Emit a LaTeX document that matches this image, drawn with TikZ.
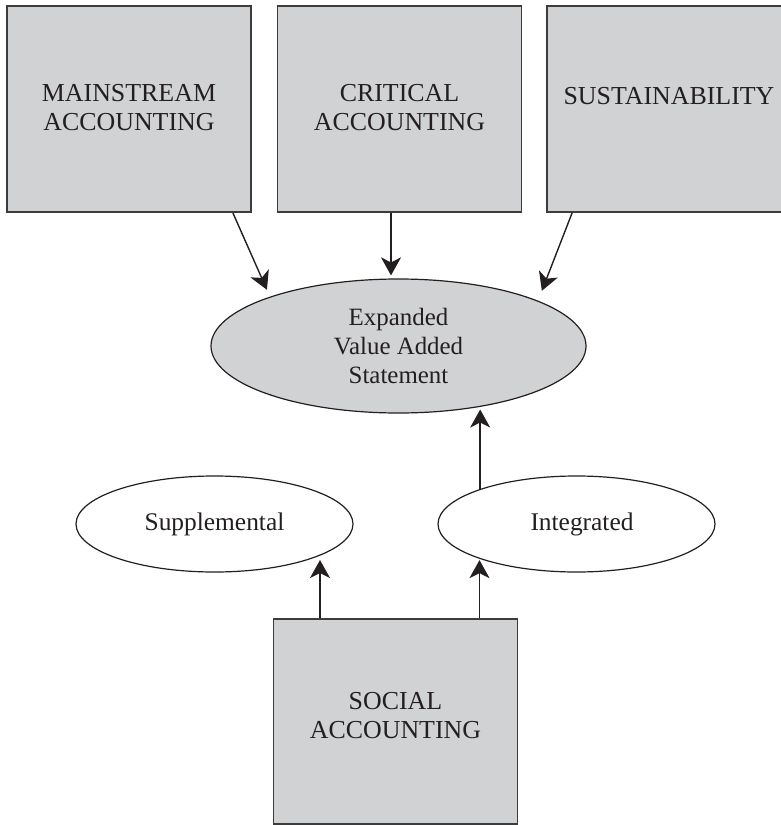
\documentclass[tikz,border=0pt]{standalone}
\usepackage{fontspec}
\setmainfont{Liberation Serif}
\usetikzlibrary{arrows.meta,shapes.geometric}
\definecolor{panel}{HTML}{D1D2D4}
\definecolor{ink}{HTML}{231F20}
\definecolor{frame}{HTML}{3C3C3C}
\tikzset{
  topic/.style={rectangle, draw=frame, line width=1.8bp, fill=panel,
    minimum width=244bp, minimum height=206bp, inner sep=0pt},
  topiclabel/.style={font=\fontsize{26}{28.5}\selectfont, text=ink, align=center},
  hub/.style={ellipse, draw=ink, line width=1.2bp, fill=panel,
    minimum width=375bp, minimum height=134bp, inner sep=0pt,
    font=\fontsize{25}{29}\selectfont, text=ink, align=center},
  mode/.style={ellipse, draw=ink, line width=1.2bp, fill=white,
    minimum width=277bp, minimum height=96bp, inner sep=0pt,
    font=\fontsize{25.5}{29}\selectfont, text=ink},
  link/.style={draw=ink, line width=1.4bp,
    -{Stealth[length=18bp, width=20bp, inset=5bp]}},
}
\begin{document}
\begin{tikzpicture}[x=1bp, y=-1bp]
  \useasboundingbox (0,0) rectangle (781,825);

  % the three source fields
  \node[topic, label={[topiclabel, yshift=1.5bp]center:MAINSTREAM\\ACCOUNTING}] (ms) at (129,109) {};
  \node[topic, label={[topiclabel, yshift=1.5bp]center:CRITICAL\\ACCOUNTING}] (cr) at (399.5,109) {};
  \node[topic, label={[topiclabel, yshift=12.5bp]center:SUSTAINABILITY}] (su) at (669,109) {};

  % central statement
  \node[hub] (vas) at (398.5,346) {Expanded\\Value Added\\Statement};

  % reporting modes
  \node[mode] (sup) at (214.5,524) {Supplemental};
  \node[mode] (int) at (576.5,524) {\hspace*{11bp}Integrated};

  % social accounting
  \node[topic, minimum height=205bp, label={[topiclabel, yshift=6bp]center:SOCIAL\\ACCOUNTING}] (sa) at (395.5,721.5) {};

  % connectors
  \coordinate (m1) at ([xshift=-19bp]ms.south east);
  \coordinate (c1) at ([xshift=-8.5bp]cr.south);
  \coordinate (s3) at ([xshift=26bp]su.south west);
  \coordinate (a1) at ([xshift=-75.5bp]sa.north);
  \coordinate (a2) at ([xshift=84bp]sa.north);

  \draw[link, shorten >=7.5bp] (m1) -- (vas.159.8);
  \draw[link, shorten >=3bp] (c1) -- (c1 |- vas.north);
  \draw[link, shorten >=10.6bp] (s3) -- (vas.18.06);
  \draw[link, shorten >=2.5bp] (int.160.8) -- (int.160.8 |- vas.323.1);
  \draw[link, shorten >=4bp] (a1) -- (a1 |- sup.343.6);
  \draw[link, shorten >=2bp] (a2) -- (a2 |- int.199.2);
\end{tikzpicture}
\end{document}
